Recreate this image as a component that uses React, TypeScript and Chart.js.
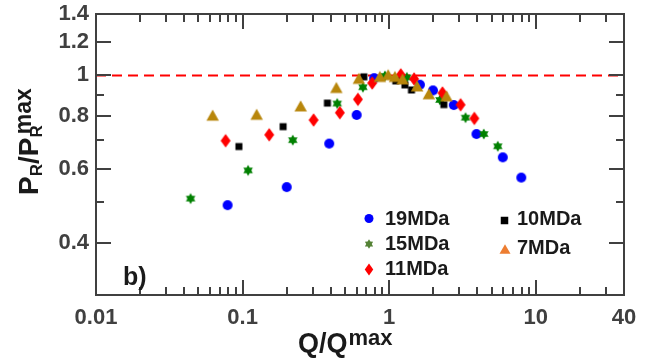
import React, { useEffect, useRef } from "react";
import { Chart, registerables } from "chart.js";

Chart.register(...registerables);

// ---------------- data ----------------
const seriesNames = ["19MDa", "15MDa", "11MDa", "10MDa", "7MDa"];

const x19 = [0.079, 0.2, 0.39, 0.6, 0.79, 1.62, 1.99, 2.76, 3.94, 5.96, 7.97];
const y19 = [0.491, 0.542, 0.688, 0.805, 0.985, 0.95, 0.921, 0.85, 0.725, 0.638, 0.571];

const x15 = [0.0442, 0.109, 0.22, 0.442, 0.662, 0.935, 1.32, 2.22, 3.32, 4.42, 5.51];
const y15 = [0.509, 0.594, 0.701, 0.857, 0.937, 0.997, 0.989, 0.874, 0.793, 0.725, 0.678];

const x11 = [0.0766, 0.152, 0.305, 0.461, 0.612, 0.766, 1.2, 1.48, 2.31, 3.07, 3.81];
const y11 = [0.699, 0.722, 0.783, 0.815, 0.877, 0.959, 1.003, 0.981, 0.908, 0.851, 0.79];

const x10 = [0.0944, 0.189, 0.379, 0.672, 1.11, 1.28, 1.42, 2.36];
const y10 = [0.677, 0.755, 0.859, 0.992, 0.97, 0.949, 0.923, 0.852];

const x7 = [0.0625, 0.1247, 0.249, 0.436, 0.621, 0.864, 0.984, 1.094, 1.234, 1.55, 1.865, 2.46];
const y7 = [0.804, 0.808, 0.846, 0.936, 0.984, 0.994, 1.004, 0.994, 0.981, 0.944, 0.904, 0.894];

const refLineX = [0.01, 40];
const refLineY = [1, 1];

const xTickValues = [0.01, 0.1, 1, 10, 40];
const xMajorTicks = [0.1, 1, 10];
const xMinorTicks = [
  0.02, 0.03, 0.04, 0.05, 0.06, 0.07, 0.08, 0.09,
  0.2, 0.3, 0.4, 0.5, 0.6, 0.7, 0.8, 0.9,
  2, 3, 4, 5, 6, 7, 8, 9,
  20, 30,
];
const yTickValues = [0.4, 0.6, 0.8, 1, 1.2, 1.4];
const yMajorTicks = [0.4, 0.6, 0.8, 1, 1.2];
const yMinorTicks = [0.5, 0.7, 0.9];

// ---------------- styling ----------------
const FONT = "'Liberation Sans', Arial, sans-serif";
const AXIS = "#404040";
const TEXT = "#1a1a1a";

type Kind = "circle" | "star" | "diamond" | "square" | "triangle";

function pathShape(g: CanvasRenderingContext2D, kind: Kind, cx: number, cy: number, w: number, h: number) {
  g.beginPath();
  if (kind === "circle") {
    g.arc(cx, cy, w / 2, 0, Math.PI * 2);
  } else if (kind === "square") {
    g.rect(cx - w / 2, cy - h / 2, w, h);
  } else if (kind === "diamond") {
    g.moveTo(cx, cy - h / 2);
    g.lineTo(cx + w / 2, cy);
    g.lineTo(cx, cy + h / 2);
    g.lineTo(cx - w / 2, cy);
    g.closePath();
  } else if (kind === "triangle") {
    g.moveTo(cx, cy - h / 2);
    g.lineTo(cx + w / 2, cy + h / 2);
    g.lineTo(cx - w / 2, cy + h / 2);
    g.closePath();
  } else {
    const ro = w / 2;
    const ri = ro * 0.58;
    const k = h / w;
    for (let i = 0; i < 12; i++) {
      const r = i % 2 === 0 ? ro : ri;
      const a = -Math.PI / 2 + (i * Math.PI) / 6;
      const px = cx + r * Math.cos(a);
      const py = cy + r * Math.sin(a) * k;
      if (i === 0) g.moveTo(px, py);
      else g.lineTo(px, py);
    }
    g.closePath();
  }
}

function makeMarker(kind: Kind, color: string, w: number, h: number): HTMLCanvasElement {
  const c = document.createElement("canvas");
  const s = Math.ceil(Math.max(w, h)) + 4;
  const size = s % 2 === 0 ? s : s + 1;
  c.width = size;
  c.height = size;
  const g = c.getContext("2d")!;
  g.fillStyle = color;
  pathShape(g, kind, size / 2, size / 2, w, h);
  g.fill();
  return c;
}

function toPoints(xs: number[], ys: number[]) {
  return xs.map((x, i) => ({ x, y: ys[i] }));
}

function logPix(v: number, lo: number, hi: number, p0: number, p1: number) {
  return p0 + ((Math.log10(v) - Math.log10(lo)) / (Math.log10(hi) - Math.log10(lo))) * (p1 - p0);
}

function geom(chart: any) {
  const a = chart.chartArea;
  const xs = chart.scales.x;
  const ys = chart.scales.y;
  const L = Math.round(a.left);
  const R = Math.round(a.right);
  const T = Math.round(a.top);
  const B = Math.round(a.bottom);
  const xPix = (v: number) => {
    let p = xs.getPixelForValue(v);
    if (!isFinite(p)) p = logPix(v, xTickValues[0], xTickValues[xTickValues.length - 1], L, R);
    return Math.round(p);
  };
  const yPix = (v: number) => {
    let p = ys.getPixelForValue(v);
    if (!isFinite(p)) p = logPix(v, 0.3, yTickValues[yTickValues.length - 1], B, T);
    return Math.round(p);
  };
  return { L, R, T, B, xPix, yPix };
}

function resetCtx(ctx: CanvasRenderingContext2D) {
  ctx.setLineDash([]);
  ctx.globalAlpha = 1;
  ctx.globalCompositeOperation = "source-over";
  ctx.shadowBlur = 0;
  ctx.shadowColor = "rgba(0,0,0,0)";
}

function drawTicksFill(ctx: CanvasRenderingContext2D, g: any) {
  const { L, R, T, B, xPix, yPix } = g;
  ctx.fillStyle = AXIS;
  const tx = (v: number, len: number) => {
    const p = xPix(v);
    ctx.fillRect(p - 1, B - len, 2, len);
    ctx.fillRect(p - 1, T, 2, len);
  };
  const ty = (v: number, len: number) => {
    const p = yPix(v);
    ctx.fillRect(L, p - 1, len, 2);
    ctx.fillRect(R - len, p - 1, len, 2);
  };
  for (const v of xMajorTicks) tx(v, 15);
  for (const v of xMinorTicks) tx(v, 8);
  for (const v of yMajorTicks) ty(v, 15);
  for (const v of yMinorTicks) ty(v, 8);
}

function drawTicksStroke(ctx: CanvasRenderingContext2D, g: any) {
  const { L, R, T, B, xPix, yPix } = g;
  ctx.strokeStyle = AXIS;
  ctx.lineWidth = 2;
  ctx.beginPath();
  const tx = (v: number, len: number) => {
    const p = xPix(v);
    ctx.moveTo(p, B);
    ctx.lineTo(p, B - len);
    ctx.moveTo(p, T);
    ctx.lineTo(p, T + len);
  };
  const ty = (v: number, len: number) => {
    const p = yPix(v);
    ctx.moveTo(L, p);
    ctx.lineTo(L + len, p);
    ctx.moveTo(R, p);
    ctx.lineTo(R - len, p);
  };
  for (const v of xMajorTicks) tx(v, 15);
  for (const v of xMinorTicks) tx(v, 8);
  for (const v of yMajorTicks) ty(v, 15);
  for (const v of yMinorTicks) ty(v, 8);
  ctx.stroke();
}

const overlayPlugin = {
  id: "overlay",
  beforeDatasetsDraw(chart: any) {
    const ctx = chart.ctx;
    ctx.save();
    resetCtx(ctx);
    drawTicksFill(ctx, geom(chart));
    ctx.restore();
  },
  afterDraw(chart: any) {
    const ctx = chart.ctx;
    const g = geom(chart);
    const { L, R, T, B } = g;
    ctx.save();
    resetCtx(ctx);

    // frame
    ctx.strokeStyle = AXIS;
    ctx.lineWidth = 2;
    ctx.strokeRect(L, T, R - L, B - T);

    // inward ticks
    drawTicksStroke(ctx, g);
    drawTicksFill(ctx, g);

    // x title: Q/Q^max
    ctx.fillStyle = TEXT;
    ctx.textBaseline = "alphabetic";
    ctx.textAlign = "left";
    let tx = 298;
    const tb = 352;
    ctx.font = `bold 27px ${FONT}`;
    ctx.fillText("Q/Q", tx, tb);
    tx += ctx.measureText("Q/Q").width + 1;
    ctx.font = `bold 22px ${FONT}`;
    ctx.fillText("max", tx, tb - 7);

    // y title: P_R/P_R^max (rotated)
    ctx.save();
    ctx.translate(38, 195);
    ctx.rotate(-Math.PI / 2);
    let ry = 0;
    const seg = (t: string, size: number, dy: number) => {
      ctx.font = `bold ${size}px ${FONT}`;
      ctx.fillText(t, ry, dy);
      ry += ctx.measureText(t).width;
    };
    seg("P", 28, 0);
    seg("R", 17, 4);
    seg("/", 28, 0);
    seg("P", 28, 0);
    seg("R", 17, 4);
    ry -= 9;
    seg("max", 23, -7);
    ctx.restore();

    // panel label
    ctx.font = `bold 25px ${FONT}`;
    ctx.fillStyle = TEXT;
    ctx.fillText("b)", 123, 285);

    // legend
    const leg: [Kind, string, number, number, number, number, number, number, string][] = [
      ["circle", "#0000ff", 9, 9, 369, 218.5, 385, 225, seriesNames[0]],
      ["star", "#548235", 9.5, 9.5, 369, 244, 385, 250, seriesNames[1]],
      ["diamond", "#ff0000", 8.5, 12, 369, 269.5, 385, 275, seriesNames[2]],
      ["square", "#000000", 7.5, 7.5, 504.5, 220.5, 517, 225, seriesNames[3]],
      ["triangle", "#ed7d31", 11, 9.5, 505, 249, 517, 254, seriesNames[4]],
    ];
    ctx.font = `bold 20px ${FONT}`;
    leg.forEach(([kind, color, w, h, mx, my, lx, lb, label]) => {
      ctx.fillStyle = color;
      pathShape(ctx, kind, mx, my, w, h);
      ctx.fill();
      ctx.fillStyle = TEXT;
      ctx.fillText(label, lx, lb);
    });
    ctx.restore();
  },
};

export default function App() {
  const ref = useRef<HTMLCanvasElement | null>(null);

  useEffect(() => {
    document.body.style.margin = "0";
    const canvas = ref.current;
    if (!canvas) return;

    const mk = {
      c19: makeMarker("circle", "#0000ff", 10, 10),
      c15: makeMarker("star", "#008000", 11, 11),
      c11: makeMarker("diamond", "#ff0000", 10, 13.5),
      c10: makeMarker("square", "#000000", 7, 7),
      c7: makeMarker("triangle", "#b8860b", 12.5, 11),
    };

    const pointDs = (label: string, data: any[], style: HTMLCanvasElement, color: string, order: number) => ({
      type: "scatter" as const,
      label,
      data,
      pointStyle: style,
      pointRadius: 5,
      pointHoverRadius: 5,
      backgroundColor: color,
      borderColor: color,
      showLine: false,
      order,
    });

    const tickFont = { family: FONT, weight: "bold" as const, size: 22 };

    const chart = new Chart(canvas, {
      type: "scatter",
      data: {
        datasets: [
          {
            type: "line" as const,
            label: "ref",
            data: toPoints(refLineX, refLineY),
            borderColor: "#ff0000",
            borderWidth: 2,
            borderDash: [10, 6],
            pointRadius: 0,
            fill: false,
            order: 6,
          } as any,
          pointDs(seriesNames[0], toPoints(x19, y19), mk.c19, "#0000ff", 5),
          pointDs(seriesNames[1], toPoints(x15, y15), mk.c15, "#008000", 4),
          pointDs(seriesNames[2], toPoints(x11, y11), mk.c11, "#ff0000", 3),
          pointDs(seriesNames[3], toPoints(x10, y10), mk.c10, "#000000", 2),
          pointDs(seriesNames[4], toPoints(x7, y7), mk.c7, "#b8860b", 1),
        ],
      },
      options: {
        animation: false,
        responsive: false,
        devicePixelRatio: 1,
        events: [],
        layout: { padding: { top: 14, right: 28, left: 0, bottom: 0 } },
        plugins: {
          legend: { display: false },
          tooltip: { enabled: false },
        },
        scales: {
          x: {
            type: "logarithmic",
            min: 0.01,
            max: 40,
            grid: { display: false, drawTicks: false },
            border: { display: false },
            ticks: {
              font: tickFont,
              color: AXIS,
              padding: 10,
              autoSkip: false,
              maxRotation: 0,
              callback: (v: any) => String(Number(v)),
            },
            afterBuildTicks: (s: any) => {
              s.ticks = xTickValues.map((v) => ({ value: v }));
            },
            afterFit: (s: any) => {
              s.height = 67;
              s.paddingLeft = 0;
              s.paddingRight = 0;
            },
          },
          y: {
            type: "logarithmic",
            min: 0.3,
            max: 1.4,
            grid: { display: false, drawTicks: false },
            border: { display: false },
            ticks: {
              font: tickFont,
              color: AXIS,
              padding: 7,
              autoSkip: false,
              callback: (v: any) => String(Number(v)),
            },
            afterBuildTicks: (s: any) => {
              s.ticks = yTickValues.map((v) => ({ value: v }));
            },
            afterFit: (s: any) => {
              s.width = 96;
              s.paddingTop = 0;
              s.paddingBottom = 0;
            },
          },
        },
      } as any,
      plugins: [overlayPlugin],
    });

    return () => chart.destroy();
  }, []);

  return (
    <div style={{ position: "absolute", left: 0, top: 0, width: 652, height: 362, background: "#fff" }}>
      <canvas ref={ref} width={652} height={362} style={{ display: "block", width: 652, height: 362 }} />
    </div>
  );
}
